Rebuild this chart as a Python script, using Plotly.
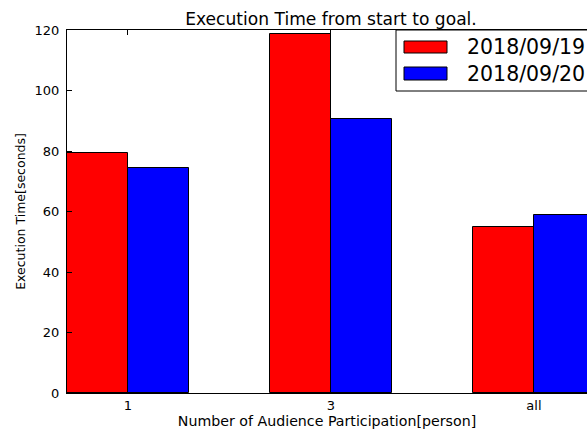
import plotly.graph_objects as go

categories = ["1", "3", "all"]
series_names = ["2018/09/19", "2018/09/20"]
values_0919 = [79.3, 118.7, 55.0]
values_0920 = [74.3, 90.5, 58.9]
colors = ["#ff0000", "#0000ff"]
y_ticks = [0, 20, 40, 60, 80, 100, 120]

W, H = 587, 429
L, R, T, B = 67, 0, 30, 36
FONT = "DejaVu Sans"

idx = list(range(len(categories)))
bar_w = 0.3

fig = go.Figure()
for name, vals, col, off in [(series_names[0], values_0919, colors[0], -bar_w),
                             (series_names[1], values_0920, colors[1], 0.0)]:
    fig.add_trace(go.Bar(
        x=idx, y=vals, name=name, width=bar_w, offset=off,
        marker=dict(color=col, line=dict(color="black", width=1)),
        showlegend=False,
    ))

plot_w = W - L - R
plot_h = H - T - B
px_per_unit = 203.0
x_left = -bar_w
x_right = x_left + plot_w / px_per_unit

fig.update_layout(
    width=W, height=H, autosize=False,
    margin=dict(l=L, r=R, t=T, b=B, pad=0),
    paper_bgcolor="white", plot_bgcolor="white",
    font=dict(family=FONT, color="black", size=13),
    title=dict(text="Execution Time from start to goal.",
               font=dict(size=17.1, family=FONT, color="black"),
               x=331 / W, xref="container", xanchor="center",
               y=1 - 19.5 / H, yref="container", yanchor="middle"),
    bargap=0,
    xaxis=dict(range=[x_left, x_right], tickvals=idx, ticktext=categories,
               showline=True, linecolor="black", linewidth=1, mirror="ticks",
               ticks="inside", ticklen=5, tickcolor="black", showgrid=False,
               zeroline=False, tickfont=dict(size=13),
               title=dict(text="Number of Audience Participation[person]",
                          font=dict(size=14.2), standoff=4)),
    yaxis=dict(range=[0, 120], tickvals=y_ticks,
               showline=True, linecolor="black", linewidth=1, mirror=False,
               ticks="inside", ticklen=5, tickcolor="black", showgrid=False,
               zeroline=False, tickfont=dict(size=13), ticklabelstandoff=4,
               title=dict(text="Execution Time[seconds]",
                          font=dict(size=12.5), standoff=6)),
)

def px_x(p):
    return (p - L) / plot_w

def px_y(p):
    return (H - B - p) / plot_h

shapes = [dict(type="rect", xref="paper", yref="paper",
               x0=px_x(396), x1=px_x(640), y0=px_y(91), y1=px_y(30),
               line=dict(color="black", width=1), fillcolor="white", layer="above")]
annotations = []
rows = [(41, 53), (67, 80)]
for (y0, y1), name, col in zip(rows, series_names, colors):
    shapes.append(dict(type="rect", xref="paper", yref="paper",
                       x0=px_x(404), x1=px_x(447), y0=px_y(y1), y1=px_y(y0),
                       line=dict(color="black", width=1), fillcolor=col, layer="above"))
    annotations.append(dict(text=name, xref="paper", yref="paper",
                            x=px_x(465), y=px_y((y0 + y1) / 2),
                            xanchor="left", yanchor="middle", showarrow=False,
                            font=dict(size=20.5, family=FONT, color="black")))
fig.update_layout(shapes=shapes, annotations=annotations)

fig.write_html("out.html",
               config={"displayModeBar": False},
               post_script="document.body.style.margin='0';document.body.style.overflow='hidden';")
